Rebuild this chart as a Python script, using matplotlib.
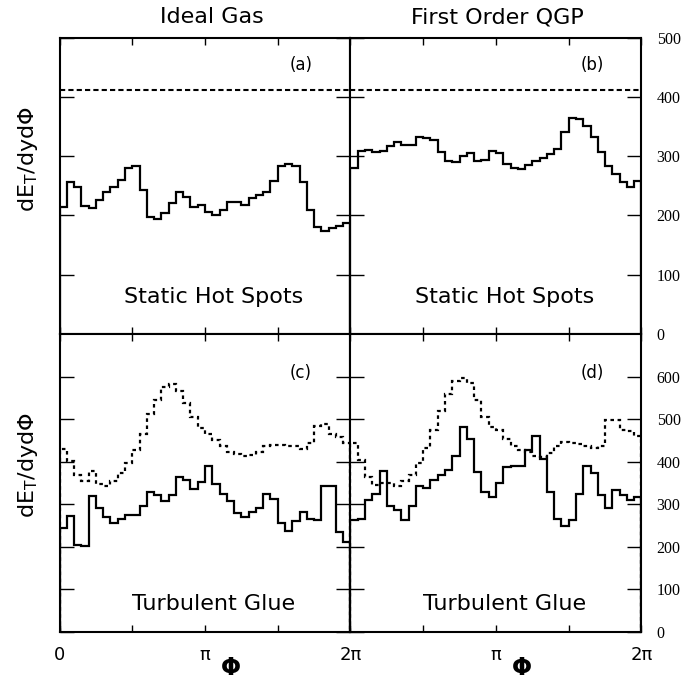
"""Transverse energy vs azimuth: ideal gas vs first order QGP."""
import numpy as np
import matplotlib
matplotlib.use("Agg")
import matplotlib.pyplot as plt

plt.rcParams.update({"font.family": "DejaVu Sans", "axes.linewidth": 1.5})

NBINS = 40
edges = np.linspace(0, 2 * np.pi, NBINS + 1)

# (a) ideal gas, static hot spots
a_solid = [215, 257, 249, 216, 213, 226, 240, 248, 260, 280,
           284, 243, 198, 194, 205, 221, 239, 231, 215, 217,
           206, 200, 209, 223, 222, 218, 229, 234, 240, 259,
           284, 288, 283, 257, 210, 180, 174, 178, 182, 187]
# (b) first order QGP, static hot spots
b_solid = [281, 309, 311, 308, 309, 318, 324, 319, 319, 333,
           332, 327, 308, 293, 290, 301, 305, 293, 294, 310,
           306, 287, 280, 279, 285, 292, 297, 304, 313, 342,
           365, 363, 352, 333, 308, 283, 270, 257, 249, 259]
top_ref = 412  # dashed reference level, top row

# (c) ideal gas, turbulent glue
c_solid = [245, 273, 205, 202, 320, 292, 270, 257, 266, 274,
           274, 297, 329, 322, 307, 322, 363, 358, 336, 352,
           391, 348, 325, 307, 279, 271, 282, 291, 325, 312,
           256, 238, 261, 281, 266, 262, 344, 344, 235, 211]
c_dash = [431, 402, 369, 354, 379, 348, 344, 354, 373, 397,
          428, 465, 511, 544, 576, 582, 565, 538, 505, 479,
          465, 452, 436, 424, 418, 413, 416, 424, 436, 440,
          440, 438, 436, 431, 444, 485, 489, 465, 457, 445]
# (d) first order QGP, turbulent glue
d_solid = [262, 266, 311, 324, 379, 297, 287, 264, 297, 342,
           338, 356, 369, 380, 414, 481, 453, 376, 328, 317,
           350, 387, 389, 391, 428, 461, 406, 328, 266, 248,
           263, 325, 391, 373, 322, 292, 334, 322, 311, 316]
d_dash = [444, 405, 364, 346, 350, 349, 344, 354, 369, 397,
          432, 474, 518, 559, 589, 597, 584, 546, 505, 482,
          475, 454, 438, 428, 422, 414, 411, 420, 438, 446,
          445, 442, 436, 432, 438, 499, 497, 475, 471, 460]

col_titles = ["Ideal Gas", "First Order QGP"]
row_titles = ["Static Hot Spots", "Turbulent Glue"]
panel_tags = ["(a)", "(b)", "(c)", "(d)"]
top_yticks = [0, 100, 200, 300, 400, 500]
bot_yticks = [0, 100, 200, 300, 400, 500, 600]
xtick_labels = ["0", "π", "2π"]

fig = plt.figure(figsize=(6.84, 6.79), dpi=100)
L0, W, L1 = 0.0870, 0.4254, 0.5124
B_bot, H_bot, B_top, H_top = 0.0692, 0.4389, 0.5087, 0.4349

axes = [fig.add_axes([L0, B_top, W, H_top]), fig.add_axes([L1, B_top, W, H_top]),
        fig.add_axes([L0, B_bot, W, H_bot]), fig.add_axes([L1, B_bot, W, H_bot])]

solids = [a_solid, b_solid, c_solid, d_solid]
dashes = [None, None, c_dash, d_dash]

for i, ax in enumerate(axes):
    ax.stairs(solids[i], edges, color="black", lw=1.6)
    if dashes[i] is not None:
        ax.stairs(dashes[i], edges, color="black", lw=1.6, ls=(0, (1.6, 1.6)))
    else:
        ax.axhline(top_ref, color="black", lw=1.5, ls=(0, (2.5, 1.5)))
    top = i < 2
    ax.set_xlim(0, 2 * np.pi)
    ax.set_ylim(0, 500 if top else 700)
    ax.set_xticks([0, np.pi, 2 * np.pi])
    ax.set_xticks([np.pi / 2, 3 * np.pi / 2], minor=True)
    ax.set_yticks(top_yticks if top else bot_yticks)
    ax.tick_params(axis="x", which="both", direction="in", length=5, width=1,
                   top=True, bottom=True, labelsize=13, pad=10)
    ax.tick_params(axis="y", direction="in", length=10, width=1,
                   left=True, right=True, labelleft=False,
                   labelright=(i % 2 == 1), pad=11)
    for lab in ax.get_yticklabels():
        lab.set_fontfamily("Liberation Serif")
        lab.set_fontsize(11.5)
    if top:
        ax.set_xticklabels([])
    elif i == 2:
        ax.set_xticklabels(xtick_labels)
    else:
        ax.set_xticklabels([""] + xtick_labels[1:])
    ax.text(0.83, 0.91 if top else 0.87, panel_tags[i], transform=ax.transAxes,
            fontsize=12, ha="center", va="center")
    ax.text(0.53, 0.125 if top else 0.095, row_titles[0] if top else row_titles[1],
            transform=ax.transAxes, fontsize=16, ha="center", va="center")
    if not top:
        ax.text(0.59, -0.12, "Φ", transform=ax.transAxes,
                fontsize=17, fontweight="bold", ha="center", va="center")
    if i % 2 == 0:
        ax.text(-0.108, 0.59 if top else 0.56, r"dE$_\mathrm{T}$/dydΦ",
                transform=ax.transAxes, rotation=90, fontsize=16,
                ha="center", va="center")

fig.text(212 / 684, 1 - 17 / 679, col_titles[0], fontsize=16, ha="center", va="center")
fig.text(497 / 684, 1 - 17 / 679, col_titles[1], fontsize=16, ha="center", va="center")

fig.savefig("out.png", dpi=100)
